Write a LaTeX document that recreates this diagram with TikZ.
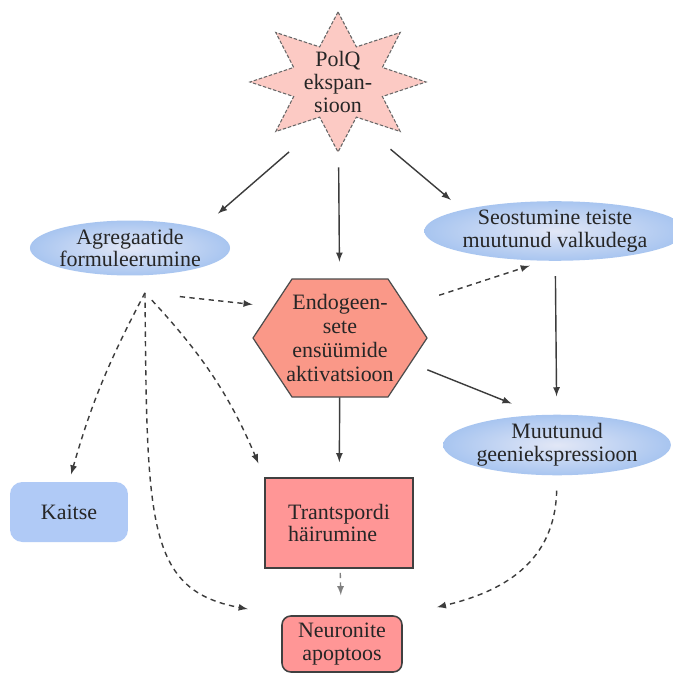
\documentclass[tikz,border=0pt]{standalone}
\usepackage{fontspec}
\setmainfont{Liberation Serif}
\usetikzlibrary{shapes.geometric,positioning}

\definecolor{starpink}{RGB}{252,202,196}
\definecolor{hexsalmon}{RGB}{250,152,136}
\definecolor{boxpink}{RGB}{255,150,150}
\definecolor{blobblue}{RGB}{168,197,240}
\definecolor{blobpale}{RGB}{226,231,246}
\definecolor{kaitseblue}{RGB}{176,202,246}
\definecolor{linegray}{RGB}{60,60,60}

\begin{document}
\begin{tikzpicture}[x=0.02cm,y=-0.02cm,
  every node/.style={font=\fontsize{12.5}{13}\selectfont, text=black!85, align=center},
  blob/.style={ellipse, inner sep=0pt, shading=radial, inner color=blobpale, outer color=blobblue},
  redbox/.style={rectangle, fill=boxpink, draw=black!75, line width=0.9pt, inner sep=0pt},
  sure/.style={-latex, draw=linegray, line width=0.8pt},
  maybe/.style={-latex, draw=linegray, line width=0.8pt, dash pattern=on 3pt off 2.5pt}]
%\draw[help lines] (0,0) grid[step=50] (672,675);
\useasboundingbox[fill=white] (0,0) rectangle (672,675);

% star and hexagon drawn first, text nodes on top
\filldraw[fill=starpink, draw=black!60, line width=0.6pt, dash pattern=on 2pt off 1pt]
  plot[variable=\k, samples at={0,...,15}] ({338+(88-40*mod(\k,2))*cos(90+22.5*\k)}, {82-(70-32*mod(\k,2))*sin(90+22.5*\k)}) -- cycle;
\filldraw[fill=hexsalmon, draw=black!70, line width=0.7pt]
  (253,338) -- (292,279) -- (388,279) -- (427,338) -- (388,397) -- (292,397) -- cycle;

\node[circle, minimum size=3.4cm, inner sep=0pt] at (338,82) (polq) {PolQ\\ekspan-\\sioon};
\node[minimum width=3.48cm, minimum height=2.36cm, inner sep=0pt, font=\fontsize{12.5}{13.6}\selectfont] at (340,338) (endo) {Endogeen-\\sete\\ensüümide\\aktivatsioon};

\node[blob, minimum width=4cm, minimum height=1.1cm, font=\fontsize{12.5}{11}\selectfont] at (130,248) (agreg) {Agregaatide\\formuleerumine};
\node[blob, minimum width=4.64cm, minimum height=1.16cm] at (555,231) (seos) {Seostumine teiste\\muutunud valkudega};
\node[blob, minimum width=4.48cm, minimum height=1.08cm] at (557,445) (muut) {Muutunud\\geeniekspressioon};
\node[rectangle, rounded corners=7pt, fill=kaitseblue, minimum width=2.36cm, minimum height=1.2cm] at (69,512) (kaitse) {Kaitse};
\node[redbox, align=left, minimum width=2.96cm, minimum height=1.8cm] at (339,523) (trans) {Trantspordi\\häirumine};
\node[redbox, rounded corners=5pt, minimum width=2.4cm, minimum height=1.12cm] at (342,644) (neur) {Neuronite\\apoptoos};

\coordinate[below right=0.34cm and 0.3cm of agreg.south] (fan);

\draw[sure, shorten >=0.45cm] (polq.235) -- (agreg.north east);
\draw[sure, shorten >=0.34cm] (polq) -- (endo);
\draw[sure, shorten >=0.3cm] (polq.-52) -- (seos.north west);

\draw[maybe, shorten <=0.7cm] (fan) -- (endo.159);
\draw[maybe, shorten >=0.15cm] (fan) to[bend right=6] (kaitse.north);
\draw[maybe, shorten <=0.2cm, shorten >=0.3cm] (fan) to[bend left=10] (trans.north west);
\draw[maybe, shorten >=0.68cm] (fan) .. controls +(2,230) and +(-135,-25) .. (neur.north west);

\draw[sure, shorten >=0.3cm] (endo) -- (trans);
\draw[maybe, shorten <=0.25cm, shorten >=0.3cm] (endo.24) -- (seos.250);
\draw[sure, shorten >=0.6cm] (endo.-20) -- (muut.120);
\draw[sure, shorten <=0.3cm, shorten >=0.36cm] (seos) -- (muut);

\draw[maybe, draw=gray, shorten <=0.08cm, shorten >=0.4cm] (trans) -- (neur);
\draw[maybe, shorten <=0.3cm, shorten >=0.7cm] (muut.south) .. controls +(-2,88) and +(98,-23) .. (neur.north east);
\end{tikzpicture}
\end{document}
